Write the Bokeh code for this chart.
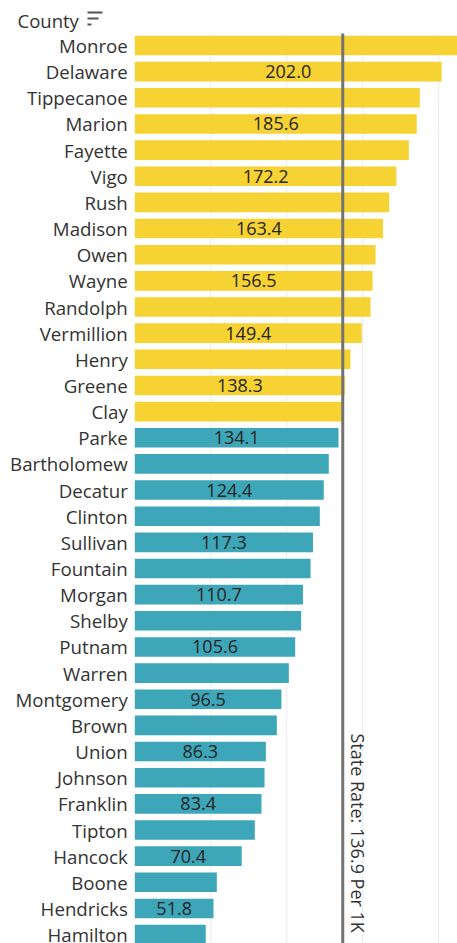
import math

from bokeh.core.properties import value
from bokeh.embed import file_html
from bokeh.models import BoxAnnotation, ColumnDataSource, Label, Range1d
from bokeh.plotting import figure
from bokeh.resources import INLINE

# Rate per 1K by county, sorted high to low
counties = [
    "Monroe", "Delaware", "Tippecanoe", "Marion", "Fayette", "Vigo", "Rush",
    "Madison", "Owen", "Wayne", "Randolph", "Vermillion", "Henry", "Greene",
    "Clay", "Parke", "Bartholomew", "Decatur", "Clinton", "Sullivan",
    "Fountain", "Morgan", "Shelby", "Putnam", "Warren", "Montgomery", "Brown",
    "Union", "Johnson", "Franklin", "Tipton", "Hancock", "Boone", "Hendricks",
    "Hamilton",
]
rates = [
    212.6, 202.0, 187.6, 185.6, 180.4, 172.2, 167.5,
    163.4, 158.5, 156.5, 155.2, 149.4, 142.0, 138.3,
    137.1, 134.1, 127.7, 124.4, 121.8, 117.3,
    115.7, 110.7, 109.5, 105.6, 101.4, 96.5, 93.5,
    86.3, 85.4, 83.4, 79.0, 70.4, 54.0, 51.8,
    46.7,
]
state_rate = 136.9
grid_ticks = [50, 100, 150, 200]

# Layout (pixels)
W, H = 457, 943
ROW_PX = 26.15          # vertical pitch of one bar row
FIRST_ROW_PX = 45       # centre of the first row from the top
ZERO_PX = 134.3         # x position of the value axis origin
PX_PER_UNIT = 1.519
TOP_PX = 33             # top of the plotting area (below the header)

FONT = "Open Sans"
YELLOW = "#F6D232"
TEAL = "#3DA6B9"
TEXT = "#333333"
VALUE_TEXT = "#252423"

x_start = -ZERO_PX / PX_PER_UNIT
x_end = (W - ZERO_PX) / PX_PER_UNIT
y_top = -FIRST_ROW_PX / ROW_PX
y_bottom = (H - FIRST_ROW_PX) / ROW_PX
y_area_top = (TOP_PX - FIRST_ROW_PX) / ROW_PX

idx = list(range(len(counties)))
colors = [YELLOW if r > state_rate else TEAL for r in rates]

bars = ColumnDataSource(dict(y=idx, county=counties, rate=rates, color=colors))

lab_idx = [i for i in idx if i % 2 == 1]
labels = ColumnDataSource(dict(
    y=lab_idx,
    x=[rates[i] / 2 for i in lab_idx],
    text=[f"{rates[i]:.1f}" for i in lab_idx],
))

p = figure(
    width=W, height=H,
    x_range=Range1d(x_start, x_end),
    y_range=Range1d(y_bottom, y_top),
    x_axis_location=None, y_axis_location=None,
    toolbar_location=None, output_backend="svg",
    min_border=0, outline_line_color=None,
    background_fill_color="white", border_fill_color="white",
)
p.grid.visible = False

# light vertical gridlines
p.segment(x0=grid_ticks, x1=grid_ticks,
          y0=[y_area_top] * len(grid_ticks), y1=[y_bottom] * len(grid_ticks),
          line_color="#ebebeb", line_width=1)

p.hbar(y="y", left=0, right="rate", height=0.75, color="color",
       line_color=None, source=bars)

# category names to the left of the bars
p.text(x=0, y="y", text="county", source=bars, x_offset=-7,
       text_align="right", text_baseline="middle",
       text_font=value(FONT), text_font_size="18.7px", text_color=TEXT)

# value labels centred in alternate bars
p.text(x="x", y="y", text="text", source=labels,
       text_align="center", text_baseline="middle",
       text_font=value(FONT), text_font_size="18px", text_color=VALUE_TEXT)

# state reference line
p.segment(x0=[state_rate], x1=[state_rate], y0=[y_area_top], y1=[y_bottom],
          line_color="#737373", line_width=3)

p.add_layout(Label(
    x=357, y=H - 733, x_units="screen", y_units="screen",
    text=f"State Rate: {state_rate} Per 1K", angle=-math.pi / 2,
    text_align="left", text_baseline="alphabetic",
    text_font=FONT, text_font_size="18px", text_color=TEXT,
))

# header with sort indicator
p.add_layout(Label(
    x=17, y=H - 20, x_units="screen", y_units="screen",
    text="County", text_align="left", text_baseline="middle",
    text_font=FONT, text_font_size="18.5px", text_color=TEXT,
))
for right, top in [(102, 11), (98, 17), (91, 23)]:
    p.add_layout(BoxAnnotation(
        left=87, right=right, top=H - top, bottom=H - top - 2,
        left_units="screen", right_units="screen",
        top_units="screen", bottom_units="screen",
        fill_color="#555555", fill_alpha=1.0, line_color=None,
    ))

open("out.html", "w").write(file_html(p, INLINE))
